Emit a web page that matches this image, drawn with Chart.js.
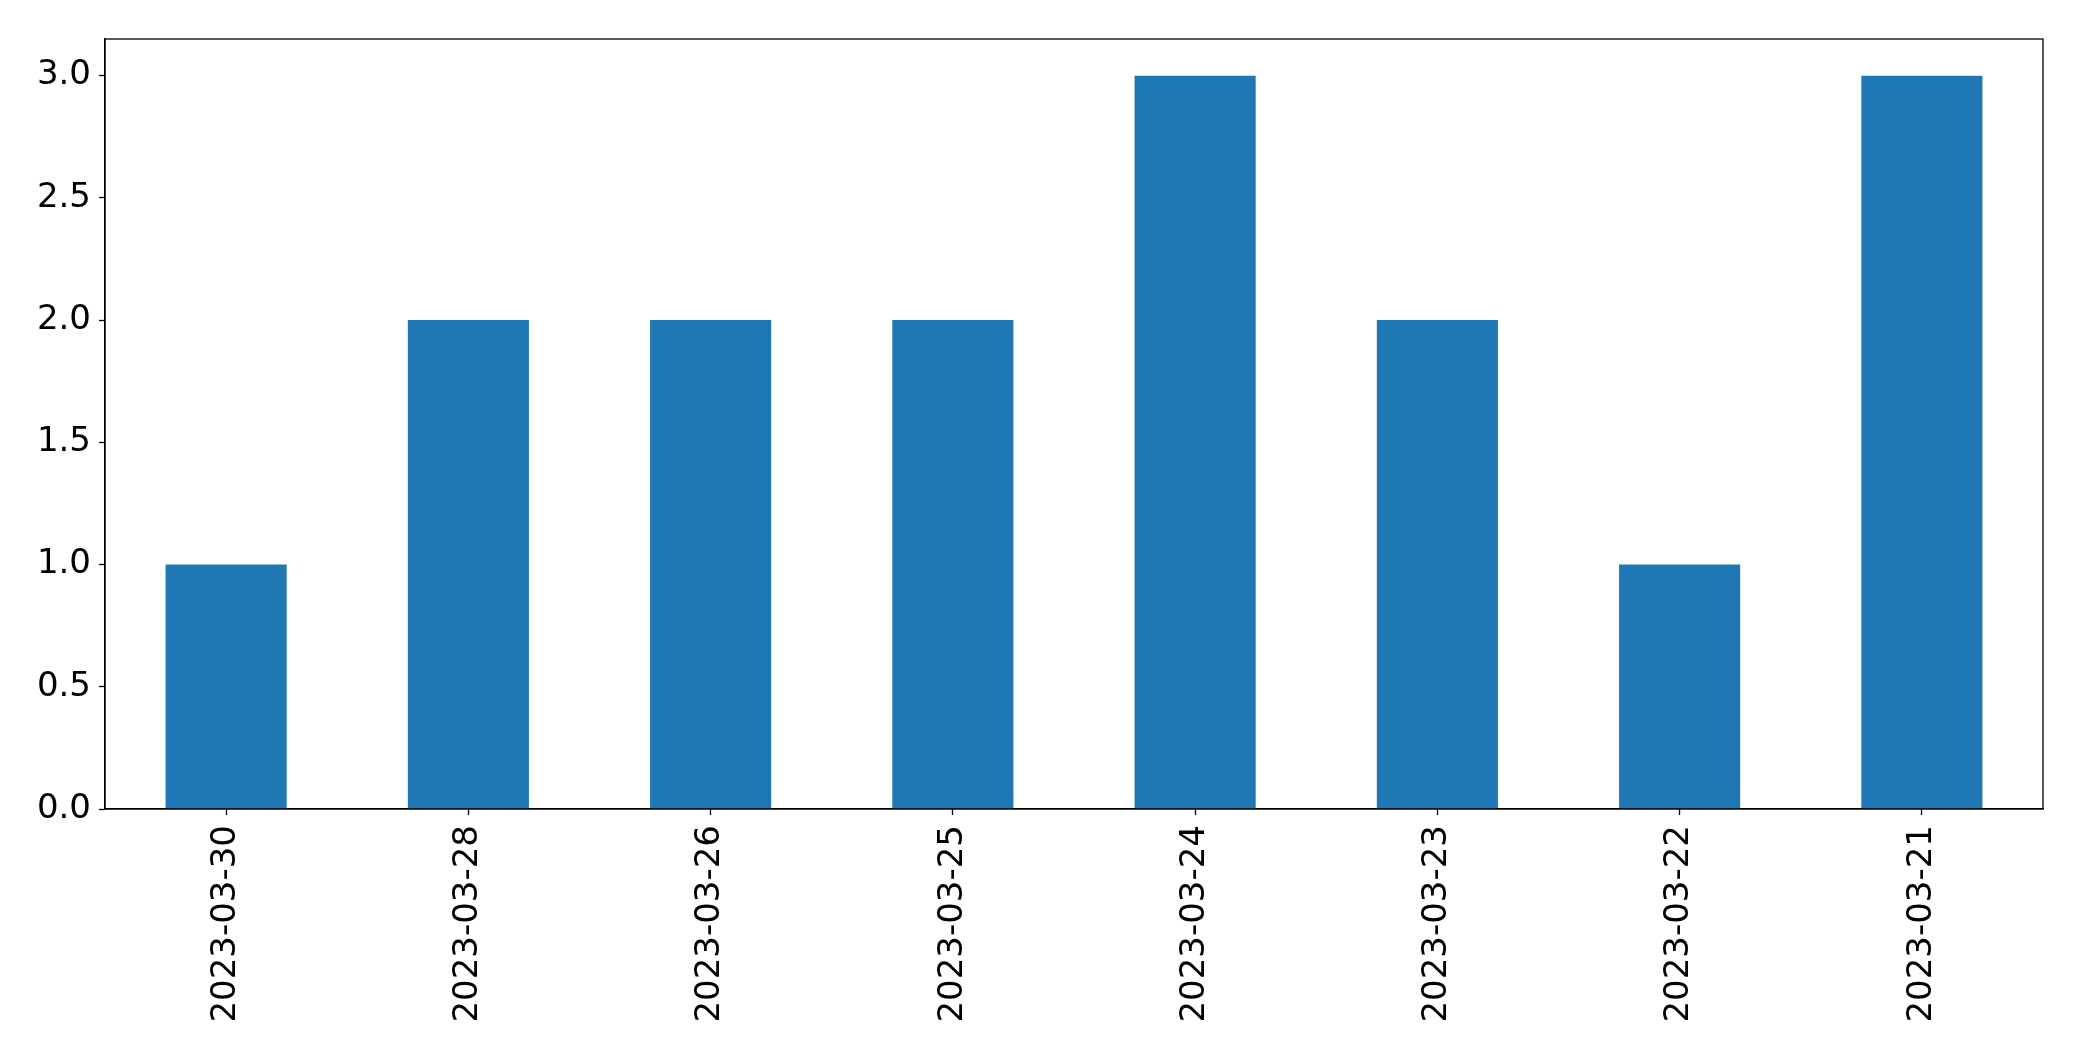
<!DOCTYPE html>
<html>
<head>
<meta charset="utf-8">
<script src="https://cdn.jsdelivr.net/npm/chart.js@4/dist/chart.umd.min.js"></script>
<style>
  html, body { margin: 0; padding: 0; background: #fff; }
  #wrap { width: 2082px; height: 1061px; }
</style>
</head>
<body>
<div id="wrap"><canvas id="chart"></canvas></div>
<script>
const dates = ['2023-03-30', '2023-03-28', '2023-03-26', '2023-03-25', '2023-03-24', '2023-03-23', '2023-03-22', '2023-03-21'];
const counts = [1, 2, 2, 2, 3, 2, 1, 3];
const yTicks = [0, 0.5, 1, 1.5, 2, 2.5, 3];

// 上と右の枠線
const frame = {
    id: 'frame',
    afterDraw(chart) {
        const { ctx, chartArea: a } = chart;
        ctx.save();
        ctx.strokeStyle = '#000';
        ctx.lineWidth = 1.3;
        ctx.strokeRect(a.left, a.top, a.right - a.left, a.bottom - a.top);
        ctx.restore();
    }
};

const font = { family: 'DejaVu Sans', size: 34 };

new Chart(document.getElementById('chart').getContext('2d'), {
    type: 'bar',
    data: {
        labels: dates,
        datasets: [{
            data: counts,
            backgroundColor: '#1f77b4',
            barPercentage: 0.5,
            categoryPercentage: 1.0
        }]
    },
    options: {
        responsive: true,
        maintainAspectRatio: false,
        animation: false,
        layout: { padding: { top: 39, right: 39, left: 0, bottom: 0 } },
        plugins: {
            legend: { display: false },
            tooltip: { enabled: false }
        },
        scales: {
            x: {
                offset: true,
                grid: { offset: false, drawOnChartArea: false, tickLength: 6, tickColor: '#000', tickWidth: 1.3 },
                border: { color: '#000', width: 1.3 },
                ticks: { color: '#000', font, maxRotation: 90, minRotation: 90, padding: 10 },
                afterFit: s => { s.height = 252; }
            },
            y: {
                min: 0,
                max: 3.15,
                grid: { drawOnChartArea: false, tickLength: 6, tickColor: '#000', tickWidth: 1.3 },
                border: { color: '#000', width: 1.3 },
                ticks: { color: '#000', font, padding: 8, callback: v => v.toFixed(1) },
                afterBuildTicks: s => { s.ticks = yTicks.map(v => ({ value: v })); },
                afterFit: s => { s.width = 105; }
            }
        }
    },
    plugins: [frame]
});
</script>
</body>
</html>
